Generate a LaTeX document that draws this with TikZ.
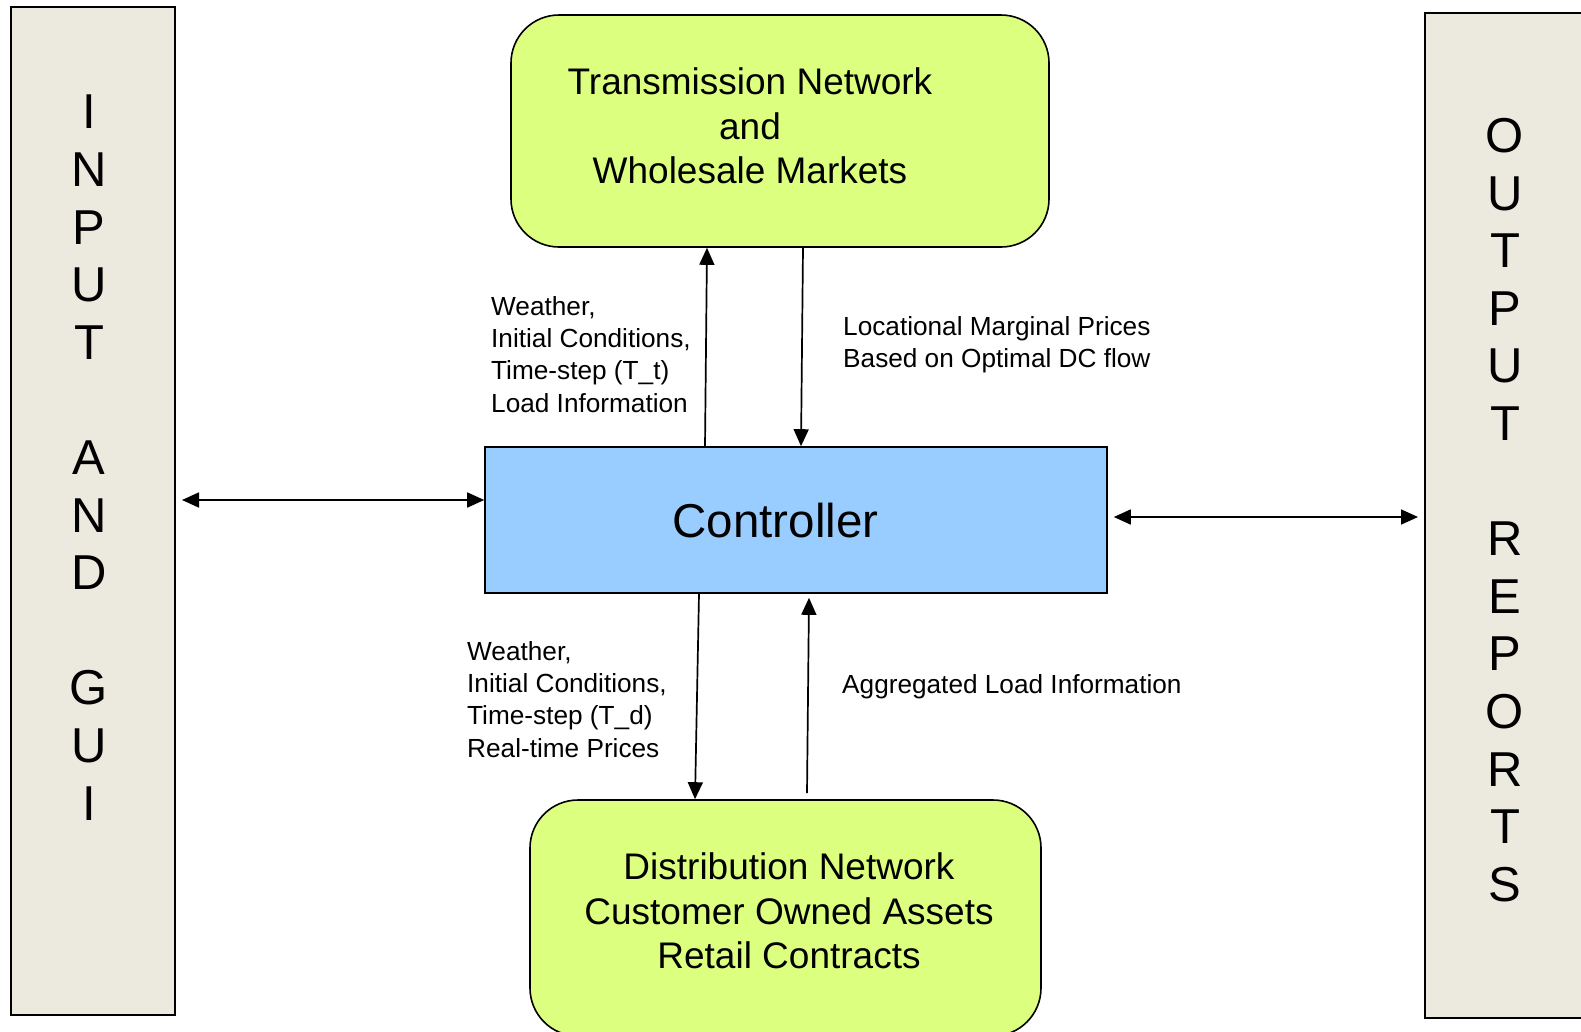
\documentclass[tikz,border=0pt]{standalone}
\usepackage{fontspec}
\setmainfont{Liberation Sans}
\usetikzlibrary{arrows.meta}
\definecolor{panel}{RGB}{236,233,223}
\definecolor{lime}{RGB}{221,255,128}
\definecolor{ctrlblue}{RGB}{153,204,255}

\begin{document}
\begin{tikzpicture}[x=1pt,y=-1pt,
  sidebox/.style={draw, line width=2pt, fill=panel, inner sep=0pt},
  netbox/.style={draw, line width=1.6pt, fill=lime, rounded corners=48pt, inner sep=0pt},
  ctrlbox/.style={draw, line width=1.6pt, fill=ctrlblue, inner sep=0pt},
  sidetext/.style={align=center, inner sep=0pt, font=\fontsize{49}{57.6}\selectfont},
  boxtext/.style={align=center, inner sep=0pt, font=\fontsize{37}{44.5}\selectfont},
  flowtext/.style={align=left, anchor=base west, inner sep=0pt, font=\fontsize{26.2}{32.3}\selectfont},
  arr/.style={line width=1.7pt, -{Triangle[length=17pt,width=15pt]}},
  biarr/.style={line width=1.7pt, {Triangle[length=17pt,width=15pt]}-{Triangle[length=17pt,width=15pt]}}
]
\useasboundingbox (0,0) rectangle (1581,1031);
\clip (0,0) rectangle (1581,1031);

% side panels
\node[sidebox, minimum width=164pt, minimum height=1008pt] (inp) at (93,511) {};
\node[sidebox, minimum width=175pt, minimum height=1005pt] (outp) at (1512.5,515.5) {};
\node[sidetext] (inptext) at (89,457.6)
  {I\\N\\P\\U\\T\\[57.6pt]A\\N\\D\\[57.6pt]G\\U\\I};
\node[sidetext] (outptext) at (1505,510)
  {O\\U\\T\\P\\U\\T\\[57.6pt]R\\E\\P\\O\\R\\T\\S};

% network boxes and controller
\node[netbox, minimum width=538pt, minimum height=232pt] (trans) at (780,131) {};
\node[boxtext] (transtext) at (750,126)
  {Transmission Network\\and\\Wholesale Markets};

\node[ctrlbox, minimum width=622pt, minimum height=146pt] (ctrl) at (796,520) {};
\node[inner sep=0pt, font=\fontsize{47.5}{57}\selectfont] (ctrltext) at (775.5,520.5) {Controller};

\node[netbox, minimum width=511pt, minimum height=236pt] (dist) at (785.5,918) {};
\node[boxtext] (disttext) at (789,911)
  {Distribution Network\\Customer Owned Assets\\Retail Contracts};

% flows between controller and transmission level (labels anchored at their last baseline)
\draw[arr] ([xshift=-91pt]ctrl.north) -- ([xshift=-73pt]trans.south);
\draw[arr] ([xshift=23pt]trans.south) -- ([xshift=5pt]ctrl.north);
\node[flowtext] (uplbl) at (491,412)
  {Weather,\\Initial Conditions,\\Time-step (T\_t)\\Load Information};
\node[flowtext] (lmplbl) at (843,367.5)
  {Locational Marginal Prices\\Based on Optimal DC flow};

% flows between controller and distribution level
\draw[arr] ([xshift=-97pt]ctrl.south) -- ([xshift=-90.5pt]dist.north);
\draw[arr] ([xshift=21.5pt,yshift=6pt]dist.north) -- ([xshift=13pt,yshift=-4pt]ctrl.south);
\node[flowtext] (downlbl) at (467,757)
  {Weather,\\Initial Conditions,\\Time-step (T\_d)\\Real-time Prices};
\node[flowtext] (agglbl) at (842,693) {Aggregated Load Information};

% exchanges with the side panels
\draw[biarr, shorten <=6pt] (inp.east |- 0,500) -- (ctrl.west |- 0,500);
\draw[biarr, shorten <=6pt, shorten >=6pt] (ctrl.east |- 0,517) -- (outp.west |- 0,517);
\end{tikzpicture}
\end{document}
